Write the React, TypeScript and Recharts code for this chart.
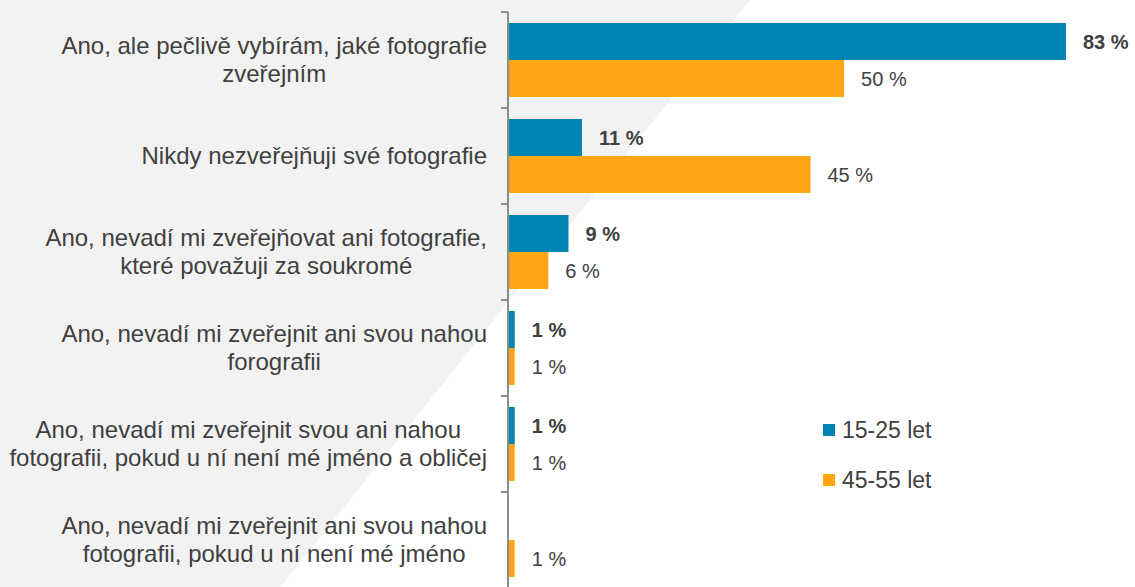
import React from "react";
import { BarChart, Bar, XAxis, YAxis, LabelList } from "recharts";

const categories = [
  "Ano, ale pečlivě vybírám, jaké fotografie\nzveřejním",
  "Nikdy nezveřejňuji své fotografie",
  "Ano, nevadí mi zveřejňovat ani fotografie,\nkteré považuji za soukromé",
  "Ano, nevadí mi zveřejnit ani svou nahou\nforografii",
  "Ano, nevadí mi zveřejnit svou ani nahou\nfotografii, pokud u ní není mé jméno a obličej",
  "Ano, nevadí mi zveřejnit ani svou nahou\nfotografii, pokud u ní není mé jméno",
];
const young: (number | null)[] = [83, 11, 9, 1, 1, null];
const older: (number | null)[] = [50, 45, 6, 1, 1, 1];
const seriesNames = ["15-25 let", "45-55 let"];

const data = categories.map((c, i) => ({ name: c, young: young[i], older: older[i] }));

const W = 1135;
const H = 588;
const MARGIN = { top: 12, right: 22, bottom: 0, left: 0 };
const Y_W = 508;
const PLOT_H = H - MARGIN.top - MARGIN.bottom;
const BAND = PLOT_H / categories.length;
const BLUE = "#0084b4";
const ORANGE = "#ffa516";
const TEXT = "#404040";
const AXIS = "#8c8c8c";
const FONT = "'Liberation Sans', Arial, sans-serif";
const TICK_FONT_SIZE = 24;
const TICK_SIZE = 7;
const TICK_MARGIN = 14;

let measureCtx: CanvasRenderingContext2D | null = null;
function measure(text: string): number {
  if (typeof document === "undefined") return text.length * TICK_FONT_SIZE * 0.5;
  if (!measureCtx) {
    const c = document.createElement("canvas");
    measureCtx = c.getContext("2d");
  }
  if (!measureCtx) return text.length * TICK_FONT_SIZE * 0.5;
  measureCtx.font = `${TICK_FONT_SIZE}px ${FONT}`;
  return measureCtx.measureText(text).width;
}

const CategoryTick = (props: any) => {
  const { x, y, payload, index } = props;
  const lines: string[] = String(payload.value).split("\n");
  const lineH = 28;
  const startY = y - ((lines.length - 1) * lineH) / 2;
  const axisX = x + TICK_SIZE + TICK_MARGIN;
  const maxW = Math.max(...lines.map(measure));
  const cx = x - maxW / 2;
  return (
    <g>
      <text x={cx} y={startY} textAnchor="middle" fontSize={TICK_FONT_SIZE} fill={TEXT} fontFamily={FONT}>
        {lines.map((l, i) => (
          <tspan key={i} x={cx} y={startY + i * lineH} dy="0.35em">
            {l}
          </tspan>
        ))}
      </text>
      <line x1={axisX - TICK_SIZE} x2={axisX} y1={y - BAND / 2} y2={y - BAND / 2} stroke={AXIS} strokeWidth={2} />
      {index === categories.length - 1 && (
        <line x1={axisX - TICK_SIZE} x2={axisX} y1={y + BAND / 2} y2={y + BAND / 2} stroke={AXIS} strokeWidth={2} />
      )}
    </g>
  );
};

const LegendBlock = () => (
  <div style={{ position: "absolute", left: 823, top: 415, fontFamily: FONT, fontSize: 23, color: TEXT }}>
    {[BLUE, ORANGE].map((c, i) => (
      <div key={i} style={{ display: "flex", alignItems: "center", height: 30, marginBottom: i === 0 ? 20 : 0 }}>
        <span style={{ display: "inline-block", width: 12, height: 12, background: c, marginRight: 7 }} />
        <span>{seriesNames[i]}</span>
      </div>
    ))}
  </div>
);

export default function App() {
  return (
    <div style={{ position: "absolute", left: 0, top: 0, width: W, height: 587, overflow: "hidden", background: "#ffffff" }}>
      <div
        style={{
          position: "absolute",
          left: 0,
          top: 0,
          width: W,
          height: 587,
          background: "#f2f2f2",
          clipPath: "polygon(0px 0px, 750px 0px, 280px 587px, 0px 587px)",
        }}
      />
      <div style={{ position: "absolute", left: 0, top: 0 }}>
        <BarChart width={W} height={H} data={data} layout="vertical" margin={MARGIN} barCategoryGap="11.5%" barGap={0}>
          <XAxis type="number" domain={[0, 90]} hide />
          <YAxis
            type="category"
            dataKey="name"
            width={Y_W}
            interval={0}
            tick={<CategoryTick />}
            tickLine={false}
            tickSize={TICK_SIZE}
            tickMargin={TICK_MARGIN}
            axisLine={{ stroke: AXIS, strokeWidth: 2 }}
          />
          <Bar dataKey="young" name={seriesNames[0]} fill={BLUE} isAnimationActive={false}>
            <LabelList
              dataKey="young"
              position="right"
              offset={17}
              formatter={(v: any) => (v == null ? "" : `${v} %`)}
              style={{ fontFamily: FONT, fontSize: 20, fontWeight: "bold", fill: TEXT }}
            />
          </Bar>
          <Bar dataKey="older" name={seriesNames[1]} fill={ORANGE} isAnimationActive={false}>
            <LabelList
              dataKey="older"
              position="right"
              offset={17}
              formatter={(v: any) => (v == null ? "" : `${v} %`)}
              style={{ fontFamily: FONT, fontSize: 20, fill: TEXT }}
            />
          </Bar>
        </BarChart>
      </div>
      <LegendBlock />
    </div>
  );
}
